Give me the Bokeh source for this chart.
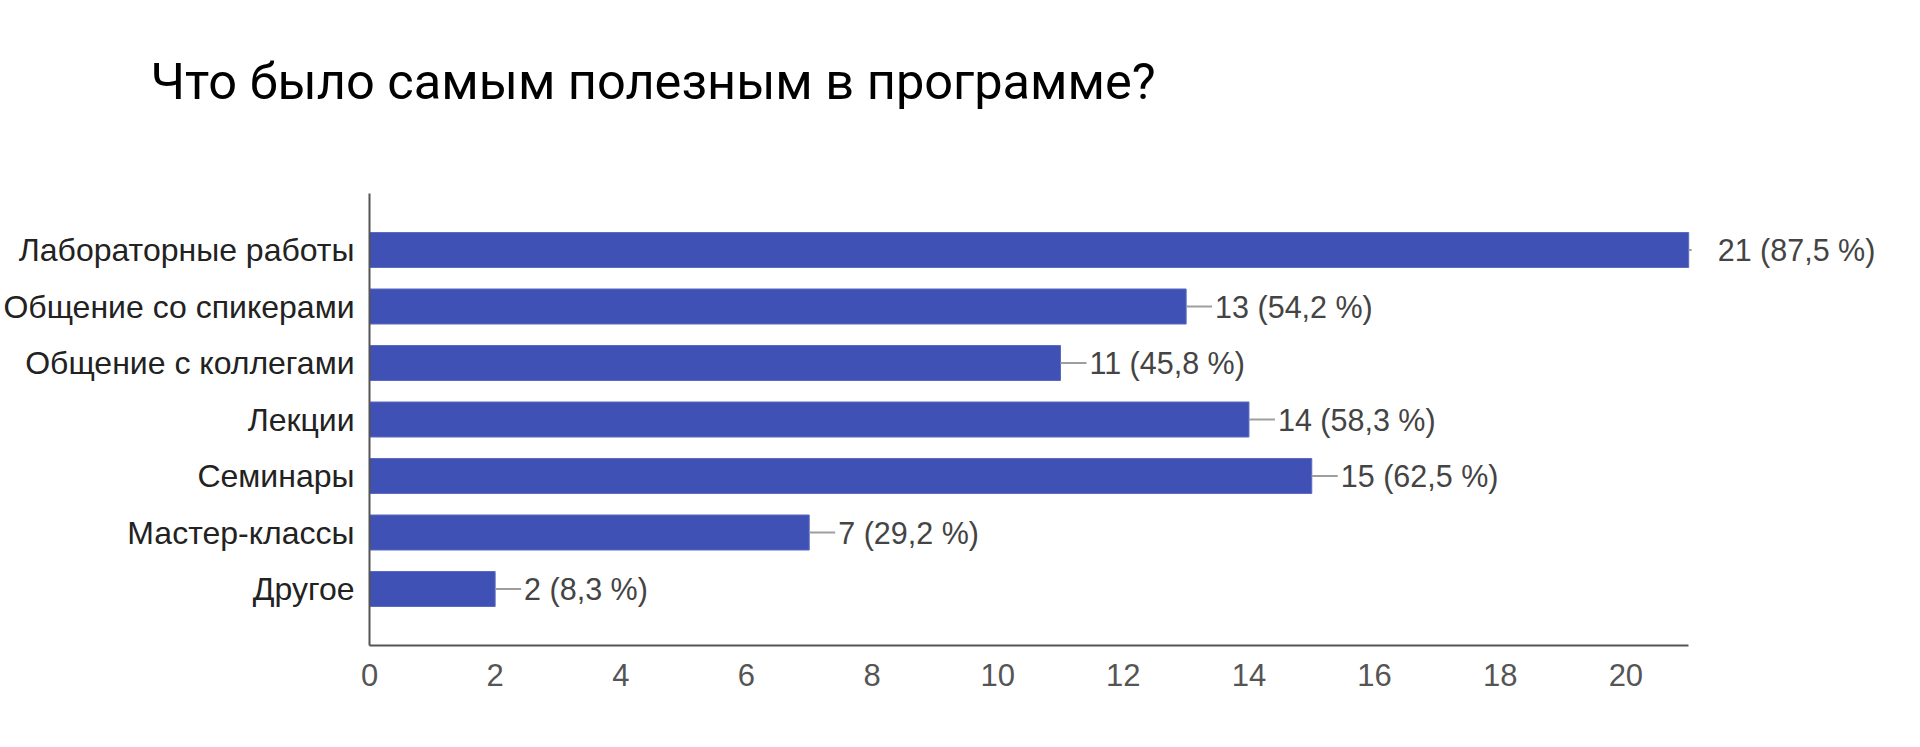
from bokeh.plotting import figure
from bokeh.models import Range1d, FactorRange, ColumnDataSource, FixedTicker, Title
from bokeh.embed import file_html
from bokeh.resources import INLINE

title_text = "Что было самым полезным в программе?"
categories = ["Лабораторные работы", "Общение со спикерами", "Общение с коллегами",
              "Лекции", "Семинары", "Мастер-классы", "Другое"]
counts = [21, 13, 11, 14, 15, 7, 2]
percents = ["87,5", "54,2", "45,8", "58,3", "62,5", "29,2", "8,3"]
x_ticks = [0, 2, 4, 6, 8, 10, 12, 14, 16, 18, 20]
x_max = 21

PX_PER_UNIT = 62.9
vmax = max(counts)
stem_px = [3 if c == vmax else 26 for c in counts]
off_px = [26 if c == vmax else 3 for c in counts]
labels = [f"{c} ({p} %)" for c, p in zip(counts, percents)]

src = ColumnDataSource(dict(
    cat=categories,
    count=counts,
    stem_end=[c + s / PX_PER_UNIT for c, s in zip(counts, stem_px)],
    off=off_px,
    label=labels,
))

FONT = "Liberation Sans"

p = figure(width=1920, height=747, output_backend="svg", toolbar_location=None,
           y_range=FactorRange(factors=list(reversed(categories)), range_padding=0.5,
                               range_padding_units="absolute"),
           x_range=Range1d(0, 1545 / PX_PER_UNIT),
           min_border_left=367, min_border_right=8, min_border_bottom=102, min_border_top=193)

p.title.text = title_text
p.title.text_font = "Roboto"
p.title.text_font_size = "50.5px"
p.title.text_font_style = "normal"
p.title.text_color = "#000000"
p.title.align = "left"
p.title.offset = -219
p.title.standoff = 10

# empty spacer between the frame and the title
spacer = Title(text=" ", text_font_size="1px", standoff=75)
p.add_layout(spacer, "above")

p.hbar(y="cat", right="count", left=0, height=0.62, source=src,
       fill_color="#3f51b5", line_color="#5c6bc0", line_width=1)
p.segment(x0="count", y0="cat", x1="stem_end", y1="cat", source=src,
          line_color="#9e9e9e", line_width=2)
p.text(x="stem_end", y="cat", text="label", x_offset="off", source=src,
       text_font={"value": FONT}, text_font_size={"value": "30.5px"},
       text_color="#444444", text_baseline="middle", text_align="left")

p.xgrid.visible = False
p.ygrid.visible = False
p.outline_line_color = None

xa = p.xaxis[0]
xa.ticker = FixedTicker(ticks=x_ticks)
xa.bounds = (0, x_max)
xa.axis_line_color = "#555555"
xa.axis_line_width = 2
xa.major_tick_line_color = None
xa.minor_tick_line_color = None
xa.major_tick_out = 0
xa.major_tick_in = 0
xa.major_label_standoff = 18
xa.major_label_text_font = FONT
xa.major_label_text_font_size = "31px"
xa.major_label_text_color = "#555555"

ya = p.yaxis[0]
ya.axis_line_color = "#555555"
ya.axis_line_width = 2
ya.major_tick_line_color = None
ya.minor_tick_line_color = None
ya.major_tick_out = 0
ya.major_tick_in = 0
ya.major_label_standoff = 15
ya.major_label_text_font = FONT
ya.major_label_text_font_size = "32px"
ya.major_label_text_color = "#222222"

open("out.html", "w").write(file_html(p, INLINE))
